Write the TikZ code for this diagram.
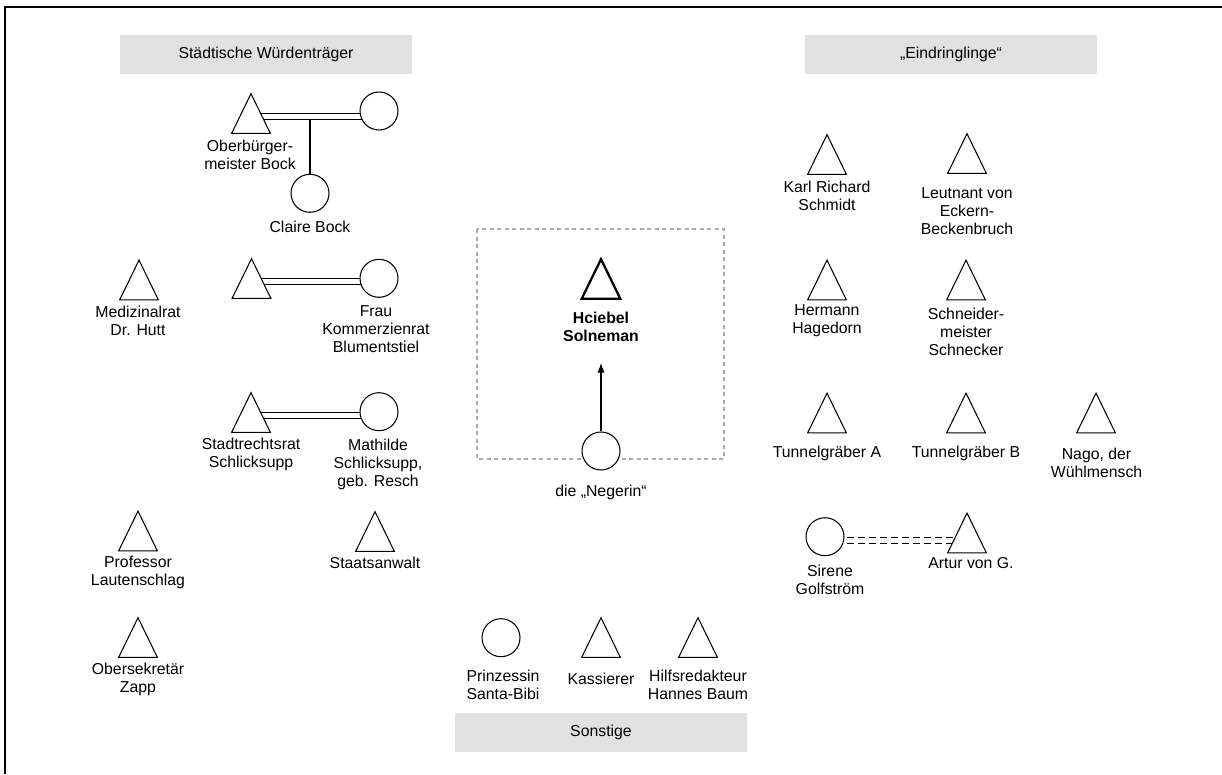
\documentclass[tikz,border=0pt]{standalone}
\usepackage{fontspec}
\setmainfont{Liberation Sans}
\usetikzlibrary{calc,arrows.meta,backgrounds}
\definecolor{hdrgray}{HTML}{E1E1E1}
\definecolor{boxgray}{HTML}{AAAAAA}
\begin{document}
\begin{tikzpicture}[x=0.02cm,y=-0.02cm,
  every node/.style={font=\fontsize{9}{10.2}\selectfont},
  lbl/.style={align=center, inner sep=0},
  tri/.style={inner sep=0, minimum width=0.76cm, minimum height=0.78cm},
  circ/.style={circle, draw, fill=white, line width=0.6pt, inner sep=0, minimum size=0.76cm},
  hdr/.style={fill=hdrgray, inner sep=0, minimum width=5.84cm, minimum height=0.78cm},
  link/.style={line width=0.6pt},
  liaison/.style={line width=0.6pt, dash pattern=on 0.14cm off 0.08cm},
  boxdash/.style={boxgray, line width=0.8pt, dash pattern=on 0.08cm off 0.07cm}
]
\useasboundingbox (0,0) rectangle (1222,774);
% frame (top and left edges)
\draw[line width=1.1pt] (5,774) -- (5,7) -- (1222,7);

% headers
\node[hdr] (hstadt) at (266,54.5) {Städtische Würdenträger};
\node[hdr] (heind) at (951,54.5) {„Eindringlinge“};
\node[hdr] (hsonst) at (601,732) {Sonstige};

% dashed centre box
\draw[boxdash] (477,229) rectangle (724,459);

% ---- Städtische Würdenträger
\node[tri] (ober) at (251,113.5) {};
\node[circ] (oberw) at (379,111) {};
\node[circ] (claire) at (310,193.3) {};
\node[lbl] (oberl) at (250,155.3) {Oberbürger-\\meister Bock};
\node[lbl] (clairel) at (310,226.7) {Claire Bock};

\node[tri] (med) at (139,280) {};
\node[lbl] (medl) at (138,321) {Medizinalrat\\Dr. Hutt};

\node[tri] (kom) at (251.5,278.5) {};
\node[circ] (frau) at (379,278.3) {};
\node[lbl] (fraul) at (376,329.5) {Frau\\Kommerzienrat\\Blumentstiel};

\node[tri] (stadt) at (251,412.5) {};
\node[circ] (math) at (379,411.7) {};
\node[lbl] (stadtl) at (251,454.5) {Stadtrechtsrat\\Schlicksupp};
\node[lbl] (mathl) at (378,464) {Mathilde\\Schlicksupp,\\geb. Resch};

\node[tri] (prof) at (138,531) {};
\node[lbl] (profl) at (138,572.5) {Professor\\Lautenschlag};
\node[tri] (staats) at (375,531.5) {};
\node[lbl] (staatsl) at (375,563) {Staatsanwalt};
\node[tri] (zapp) at (138,637.5) {};
\node[lbl] (zappl) at (138,679) {Obersekretär\\Zapp};

% ---- centre
\node[tri] (hc) at (601,279) {};
\node[lbl, font=\fontsize{9}{10.2}\selectfont\bfseries] (hcl) at (601,326.7) {Hciebel\\Solneman};
\node[circ] (neg) at (601,451) {};
\node[lbl] (negl) at (601,492) {die „Negerin“};
\coordinate (tip) at (601,363);
\draw[link, -{Latex[length=0.19cm,width=0.14cm]}] (neg.north) -- (tip);

% ---- Eindringlinge
\node[tri] (karl) at (827,154.5) {};
\node[lbl] (karll) at (827,196) {Karl Richard\\Schmidt};
\node[tri] (leut) at (967,153.5) {};
\node[lbl] (leutl) at (967,211.5) {Leutnant von\\Eckern-\\Beckenbruch};
\node[tri] (herm) at (827,280) {};
\node[lbl] (herml) at (827,321) {Hermann\\Hagedorn};
\node[tri] (schn) at (966,280) {};
\node[lbl] (schnl) at (966,331.5) {Schneider-\\meister\\Schnecker};
\node[tri] (tuna) at (827,413) {};
\node[lbl] (tunal) at (827,453.5) {Tunnelgräber A};
\node[tri] (tunb) at (966,413) {};
\node[lbl] (tunbl) at (966,453.5) {Tunnelgräber B};
\node[tri] (nago) at (1096,413) {};
\node[lbl] (nagol) at (1096.5,463) {Nago, der\\Wühlmensch};
\node[circ] (sir) at (825,536.7) {};
\node[lbl] (sirl) at (830,580) {Sirene\\Golfström};
\node[tri] (art) at (967,533) {};
\node[lbl] (artl) at (971,563) {Artur von G.};

% ---- Sonstige
\node[circ] (prinz) at (501,637.7) {};
\node[lbl] (prinzl) at (503,684.5) {Prinzessin\\Santa-Bibi};
\node[tri] (kass) at (601,637.5) {};
\node[lbl] (kassl) at (601,679) {Kassierer};
\node[tri] (hilf) at (698,637.5) {};
\node[lbl] (hilfl) at (698,684.5) {Hilfsredakteur\\Hannes Baum};

% triangles
\foreach \n in {ober,med,kom,stadt,prof,staats,zapp,karl,leut,herm,schn,tuna,tunb,nago,art,kass,hilf}
  \draw[line width=0.6pt, line join=miter] (\n.north) -- (\n.south east) -- (\n.south west) -- cycle;
\draw[line width=1.3pt, line join=miter] (hc.north) -- (hc.south east) -- (hc.south west) -- cycle;

% attachment points on the triangle sides
\foreach \t in {ober,kom,stadt} {
  \coordinate (u\t) at ($(\t.north)!0.5!(\t.south east)$);
  \coordinate (l\t) at ($(\t.north)!0.65!(\t.south east)$);
}
\coordinate (uart) at ($(art.north)!0.62!(art.south west)$);
\coordinate (lart) at ($(art.north)!0.76!(art.south west)$);

% marriages and liaison (behind the filled circles)
\begin{scope}[on background layer]
  \foreach \t/\c in {ober/oberw, kom/frau, stadt/math} {
    \draw[link] (u\t) -- (u\t -| \c.center);
    \draw[link] (l\t) -- (l\t -| \c.center);
  }
  \draw[link] (claire.center) -- (claire.center |- lober);
  \draw[liaison] (uart -| sir.center) -- (uart);
  \draw[liaison] (lart -| sir.center) -- (lart);
\end{scope}
\end{tikzpicture}
\end{document}
